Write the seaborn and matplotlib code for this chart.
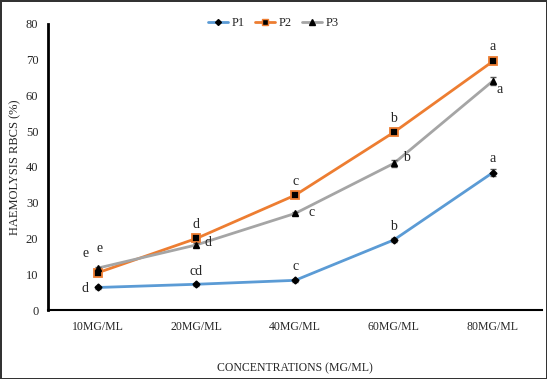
import seaborn as sns
import matplotlib.pyplot as plt
import pandas as pd
from matplotlib.lines import Line2D

concs = ['10MG/ML', '20MG/ML', '40MG/ML', '60MG/ML', '80MG/ML']
p1 = [6.3, 7.2, 8.3, 19.6, 38.4]
p2 = [10.4, 20.0, 32.1, 49.7, 69.5]
p3 = [11.7, 18.2, 27.0, 41.0, 64.0]
p1_err = [0.3, 0.4, 0.4, 0.5, 0.9]
p2_err = [0.4, 0.4, 0.5, 0.5, 0.5]
p3_err = [0.4, 0.5, 0.5, 0.9, 1.1]
p1_lab = ['d', 'cd', 'c', 'b', 'a']
p2_lab = ['e', 'd', 'c', 'b', 'a']
p3_lab = ['e', 'd', 'c', 'b', 'a']

df = pd.DataFrame({
    'conc': concs * 3,
    'val': p1 + p2 + p3,
    'series': ['P1'] * 5 + ['P2'] * 5 + ['P3'] * 5,
})

sns.set_style('white')
plt.rcParams['font.family'] = ['Liberation Serif', 'DejaVu Serif']

fig = plt.figure(figsize=(5.47, 3.79), dpi=100, edgecolor='#333333', linewidth=2)
ax = fig.add_axes([0.088, 0.182, 0.903, 0.755])

colors = {'P1': '#5B9BD5', 'P2': '#ED7D31', 'P3': '#A5A5A5'}
sns.lineplot(data=df, x='conc', y='val', hue='series', palette=colors, sort=False,
             linewidth=2, ax=ax, legend=False)

x = range(len(concs))
ax.errorbar(x, p1, yerr=p1_err, fmt='D', color='black', ms=3.5, capsize=2,
            ecolor='#555', elinewidth=1, zorder=3)
ax.errorbar(x, p2, yerr=p2_err, fmt='s', color='black', ms=6, mec='#ED7D31', mew=1.3,
            capsize=2, ecolor='#555', elinewidth=1, zorder=3)
ax.errorbar(x, p3, yerr=p3_err, fmt='^', color='black', ms=4.5, capsize=2,
            ecolor='#555', elinewidth=1, zorder=4)

# significance letters (offsets in points)
fs = 10
p1_off = [(-9, -1), (0, 9.5), (0, 10), (0, 9.5), (0, 10)]
p2_off = [(-8.5, 14), (0, 10), (0, 10), (0, 10), (0, 11)]
p3_off = [(1.5, 14), (8.6, 2), (12, 1), (9, 4), (5, -6)]
for vals, labs, offs in [(p1, p1_lab, p1_off), (p2, p2_lab, p2_off), (p3, p3_lab, p3_off)]:
    for i, (v, t) in enumerate(zip(vals, labs)):
        ax.annotate(t, (i, v), xytext=offs[i], textcoords='offset points',
                    ha='center', va='center', fontsize=fs)

ax.set_ylim(0, 80)
ax.set_xlim(-0.5, 4.5)
ax.set_yticks(range(0, 81, 10))
ax.tick_params(axis='both', length=0, labelsize=9)
ax.tick_params(axis='y', pad=7)
ax.tick_params(axis='x', pad=8, labelsize=8.5)
ax.set_xlabel('CONCENTRATIONS (MG/ML)', fontsize=8.5, labelpad=21)
ax.set_ylabel('HAEMOLYSIS RBCS (%)', fontsize=9, labelpad=3)
for s in ['top', 'right']:
    ax.spines[s].set_visible(False)
ax.spines['left'].set_linewidth(2)
ax.spines['bottom'].set_linewidth(1.5)
ax.spines['left'].set_color('black')
ax.spines['bottom'].set_color('black')

handles = [
    Line2D([], [], color='#5B9BD5', lw=2, marker='D', ms=3, mfc='black', mec='black'),
    Line2D([], [], color='#ED7D31', lw=2, marker='s', ms=5, mfc='black', mec='#ED7D31'),
    Line2D([], [], color='#A5A5A5', lw=2, marker='^', ms=4, mfc='black', mec='black'),
]
fig.legend(handles, ['P1', 'P2', 'P3'], loc='upper center', bbox_to_anchor=(0.5, 0.985),
           ncol=3, frameon=False, fontsize=9, handlelength=1.6, columnspacing=0.8,
           handletextpad=0.3)

fig.savefig('out.png', dpi=100, edgecolor=fig.get_edgecolor())
